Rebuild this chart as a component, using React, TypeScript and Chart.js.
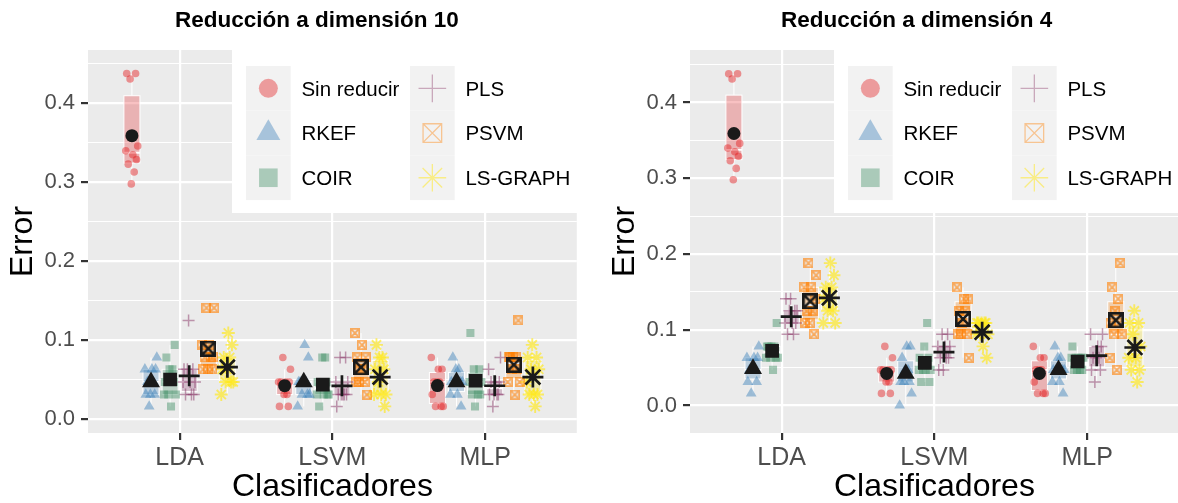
import React, { useEffect, useRef } from 'react';
import { Chart, registerables } from 'chart.js';

Chart.register(...registerables);

const FONT = '"Liberation Sans", Arial, Helvetica, sans-serif';

// ---------- data ----------
const classifiers = ['LDA', 'LSVM', 'MLP'];
const methods = ['Sin reducir', 'RKEF', 'COIR', 'PLS', 'PSVM', 'LS-GRAPH'];
const methodColors = ['#E41A1C', '#377EB8', '#3E8E63', '#8B3A6A', '#FF7F00', '#FFE81A'];
const yMajorTicks = [0, 0.1, 0.2, 0.3, 0.4];
const yMinorTicks = [0.05, 0.15, 0.25, 0.35, 0.45];
const panelTitles = ['Reducción a dimensión 10', 'Reducción a dimensión 4'];
const xAxisTitle = 'Clasificadores';
const yAxisTitle = 'Error';

// Error per run, one array per classifier (LDA, LSVM, MLP)
const sinReducir = [
  [0.438, 0.438, 0.431, 0.346, 0.34, 0.335, 0.329, 0.323, 0.313, 0.298],
  [0.078, 0.063, 0.047, 0.047, 0.047, 0.047, 0.031, 0.031, 0.016, 0.016],
  [0.078, 0.063, 0.063, 0.047, 0.047, 0.047, 0.031, 0.016, 0.016, 0.016],
];
const dim10RKEF = [
  [0.078, 0.063, 0.063, 0.063, 0.047, 0.047, 0.031, 0.031, 0.031, 0.016],
  [0.094, 0.078, 0.047, 0.047, 0.047, 0.047, 0.031, 0.031, 0.031, 0.016],
  [0.078, 0.063, 0.063, 0.047, 0.047, 0.047, 0.047, 0.031, 0.031, 0.016],
];
const dim10COIR = [
  [0.094, 0.078, 0.063, 0.063, 0.047, 0.047, 0.031, 0.031, 0.031, 0.016],
  [0.078, 0.078, 0.047, 0.047, 0.047, 0.031, 0.031, 0.031, 0.031, 0.016],
  [0.109, 0.063, 0.063, 0.047, 0.047, 0.047, 0.031, 0.031, 0.031, 0.016],
];
const dim10PLS = [
  [0.125, 0.063, 0.063, 0.063, 0.047, 0.047, 0.047, 0.031, 0.031, 0.031],
  [0.078, 0.078, 0.047, 0.047, 0.031, 0.031, 0.031, 0.031, 0.031, 0.016],
  [0.078, 0.063, 0.047, 0.047, 0.047, 0.031, 0.031, 0.031, 0.031, 0.016],
];
const dim10PSVM = [
  [0.141, 0.141, 0.094, 0.094, 0.078, 0.078, 0.078, 0.063, 0.063, 0.063],
  [0.109, 0.094, 0.078, 0.078, 0.063, 0.063, 0.047, 0.047, 0.047, 0.031],
  [0.125, 0.078, 0.078, 0.078, 0.078, 0.063, 0.063, 0.047, 0.047, 0.031],
];
const dim10LSGRAPH = [
  [0.109, 0.094, 0.078, 0.078, 0.063, 0.063, 0.047, 0.047, 0.047, 0.031],
  [0.094, 0.078, 0.078, 0.063, 0.063, 0.047, 0.031, 0.031, 0.031, 0.016],
  [0.094, 0.078, 0.078, 0.063, 0.063, 0.047, 0.031, 0.031, 0.031, 0.016],
];
const dim4RKEF = [
  [0.078, 0.063, 0.063, 0.063, 0.047, 0.047, 0.047, 0.031, 0.031, 0.016],
  [0.078, 0.078, 0.063, 0.047, 0.047, 0.031, 0.031, 0.031, 0.016, 0.0],
  [0.078, 0.063, 0.063, 0.047, 0.047, 0.047, 0.047, 0.031, 0.031, 0.016],
];
const dim4COIR = [
  [0.109, 0.078, 0.078, 0.078, 0.078, 0.063, 0.063, 0.063, 0.063, 0.047],
  [0.109, 0.078, 0.063, 0.063, 0.047, 0.047, 0.047, 0.047, 0.031, 0.031],
  [0.078, 0.063, 0.063, 0.063, 0.063, 0.063, 0.047, 0.047, 0.047, 0.047],
];
const dim4PLS = [
  [0.141, 0.141, 0.125, 0.125, 0.125, 0.109, 0.109, 0.109, 0.094, 0.094],
  [0.094, 0.094, 0.078, 0.078, 0.078, 0.063, 0.063, 0.063, 0.047, 0.047],
  [0.094, 0.094, 0.078, 0.078, 0.063, 0.063, 0.063, 0.047, 0.047, 0.031],
];
const dim4PSVM = [
  [0.188, 0.172, 0.156, 0.156, 0.141, 0.125, 0.125, 0.109, 0.109, 0.094],
  [0.156, 0.141, 0.141, 0.125, 0.125, 0.109, 0.094, 0.094, 0.094, 0.063],
  [0.188, 0.156, 0.141, 0.125, 0.109, 0.109, 0.094, 0.094, 0.063, 0.047],
];
const dim4LSGRAPH = [
  [0.188, 0.172, 0.156, 0.156, 0.141, 0.141, 0.125, 0.125, 0.109, 0.109],
  [0.109, 0.109, 0.109, 0.109, 0.109, 0.094, 0.094, 0.094, 0.078, 0.063],
  [0.125, 0.109, 0.109, 0.094, 0.078, 0.063, 0.063, 0.047, 0.047, 0.031],
];
// fixed horizontal jitter pattern (category units)
const jitterPattern = [-0.034, 0.024, -0.012, 0.038, -0.04, 0.006, 0.03, -0.024, 0.015, -0.004];

const panels = [
  { title: panelTitles[0], series: [sinReducir, dim10RKEF, dim10COIR, dim10PLS, dim10PSVM, dim10LSGRAPH], yMin: -0.0177, yMax: 0.4677 },
  { title: panelTitles[1], series: [sinReducir, dim4RKEF, dim4COIR, dim4PLS, dim4PSVM, dim4LSGRAPH], yMin: -0.0363, yMax: 0.4693 },
];

// ---------- style ----------
const DODGE = 0.125;
const BOX_W = 0.105;
const PANEL_BG = '#EBEBEB';
const MEAN_COLOR = '#1A1A1A';
const pointRadii = [3.8, 6.2, 5.7, 6, 5, 6.5];
const meanRadii = [6.5, 10.4, 9.7, 10.5, 8, 10.5];
const legendLayout = { boxLeft: 144, boxBottom: 213, keyCols: [158, 322], keyTop: 66, keySize: 44.7, textGap: 10.7, fontSize: 20.5 };
const titleLefts = [175, 781];

function rgba(hex: string, a: number) {
  const n = parseInt(hex.slice(1), 16);
  return `rgba(${(n >> 16) & 255},${(n >> 8) & 255},${n & 255},${a})`;
}

function makeBoxX(size: number, lw: number, color: string) {
  const c = document.createElement('canvas');
  c.width = size;
  c.height = size;
  const g = c.getContext('2d')!;
  g.strokeStyle = color;
  g.lineWidth = lw;
  const o = lw / 2;
  const s = size - lw;
  g.beginPath();
  g.rect(o, o, s, s);
  g.moveTo(o, o);
  g.lineTo(o + s, o + s);
  g.moveTo(o + s, o);
  g.lineTo(o, o + s);
  g.stroke();
  return c;
}

function mean(v: number[]) {
  return v.reduce((a, b) => a + b, 0) / v.length;
}

function boxStats(vals: number[]) {
  const s = [...vals].sort((a, b) => a - b);
  const q = (p: number) => {
    const h = (s.length - 1) * p;
    const lo = Math.floor(h);
    const hi = Math.min(lo + 1, s.length - 1);
    return s[lo] + (h - lo) * (s[hi] - s[lo]);
  };
  const q1 = q(0.25), med = q(0.5), q3 = q(0.75);
  const iqr = q3 - q1;
  const lo = Math.min(...s.filter((v) => v >= q1 - 1.5 * iqr));
  const hi = Math.max(...s.filter((v) => v <= q3 + 1.5 * iqr));
  return { q1, med, q3, lo, hi };
}

function drawLegendMarker(ctx: CanvasRenderingContext2D, m: number, cx: number, cy: number, color: string) {
  ctx.save();
  ctx.fillStyle = color;
  ctx.strokeStyle = color;
  ctx.lineWidth = 1.3;
  ctx.beginPath();
  if (m === 0) {
    ctx.arc(cx, cy, 9.5, 0, Math.PI * 2);
    ctx.fill();
  } else if (m === 1) {
    const r = 13.8;
    ctx.moveTo(cx, cy - r);
    ctx.lineTo(cx + r * 0.866, cy + r * 0.5);
    ctx.lineTo(cx - r * 0.866, cy + r * 0.5);
    ctx.closePath();
    ctx.fill();
  } else if (m === 2) {
    ctx.rect(cx - 9.3, cy - 9.3, 18.6, 18.6);
    ctx.fill();
  } else if (m === 3) {
    const r = 13.8;
    ctx.moveTo(cx - r, cy); ctx.lineTo(cx + r, cy);
    ctx.moveTo(cx, cy - r); ctx.lineTo(cx, cy + r);
    ctx.stroke();
  } else if (m === 4) {
    const h = 9.3;
    ctx.rect(cx - h, cy - h, 2 * h, 2 * h);
    ctx.moveTo(cx - h, cy - h); ctx.lineTo(cx + h, cy + h);
    ctx.moveTo(cx + h, cy - h); ctx.lineTo(cx - h, cy + h);
    ctx.stroke();
  } else {
    const r = 13.8;
    const d = r * Math.SQRT1_2;
    ctx.moveTo(cx - r, cy); ctx.lineTo(cx + r, cy);
    ctx.moveTo(cx, cy - r); ctx.lineTo(cx, cy + r);
    ctx.moveTo(cx - d, cy - d); ctx.lineTo(cx + d, cy + d);
    ctx.moveTo(cx + d, cy - d); ctx.lineTo(cx - d, cy + d);
    ctx.stroke();
  }
  ctx.restore();
}

function isMajor(v: number) {
  return Math.abs(v * 10 - Math.round(v * 10)) < 1e-6;
}

function buildChart(canvas: HTMLCanvasElement, panel: any) {
  const psvmPoint = makeBoxX(10, 1.7, rgba(methodColors[4], 0.6));
  const psvmMean = makeBoxX(16, 2.6, MEAN_COLOR);
  const styles: any[] = ['circle', 'triangle', 'rect', 'cross', psvmPoint, 'star'];
  const meanStyles: any[] = ['circle', 'triangle', 'rect', 'cross', psvmMean, 'star'];
  const lineShape = [false, false, false, true, false, true];
  const pointAlpha = [0.45, 0.45, 0.45, 0.5, 0.6, 0.65];
  const lineW = [0, 0, 0, 1.5, 0, 1.9];

  const datasets: any[] = [];
  const boxes: any[] = [];
  panel.series.forEach((byClass: number[][], m: number) => {
    const pts: any[] = [];
    const means: any[] = [];
    const off = (m - 2.5) * DODGE;
    byClass.forEach((vals, c) => {
      const cx = c + 1 + off;
      vals.forEach((v, k) => pts.push({ x: cx + jitterPattern[(k + 3 * m + 2 * c) % jitterPattern.length], y: v }));
      means.push({ x: cx, y: mean(vals) });
      boxes.push({ x: cx, color: methodColors[m], ...boxStats(vals) });
    });
    const col = methodColors[m];
    datasets.push({
      label: methods[m],
      data: pts,
      order: 2,
      pointStyle: styles[m],
      pointRadius: pointRadii[m],
      pointHoverRadius: pointRadii[m],
      backgroundColor: lineShape[m] ? 'rgba(0,0,0,0)' : rgba(col, pointAlpha[m]),
      borderColor: lineShape[m] ? rgba(col, pointAlpha[m]) : 'rgba(0,0,0,0)',
      borderWidth: lineW[m],
    });
    datasets.push({
      label: methods[m] + ' (media)',
      data: means,
      order: 1,
      pointStyle: meanStyles[m],
      pointRadius: meanRadii[m],
      pointHoverRadius: meanRadii[m],
      backgroundColor: lineShape[m] ? 'rgba(0,0,0,0)' : MEAN_COLOR,
      borderColor: lineShape[m] ? MEAN_COLOR : 'rgba(0,0,0,0)',
      borderWidth: lineShape[m] ? 2.7 : 0,
    });
  });

  const bgPlugin = {
    id: 'panelBg',
    beforeDraw(chart: any) {
      const { ctx, chartArea: a } = chart;
      ctx.save();
      ctx.fillStyle = PANEL_BG;
      ctx.fillRect(a.left, a.top, a.right - a.left, a.bottom - a.top);
      ctx.restore();
    },
  };

  const boxPlugin = {
    id: 'boxes',
    beforeDatasetsDraw(chart: any) {
      const { ctx, chartArea: a } = chart;
      const xs = chart.scales.x;
      const ys = chart.scales.y;
      ctx.save();
      ctx.beginPath();
      ctx.rect(a.left, a.top, a.right - a.left, a.bottom - a.top);
      ctx.clip();
      boxes.forEach((b) => {
        const xl = xs.getPixelForValue(b.x - BOX_W / 2);
        const xr = xs.getPixelForValue(b.x + BOX_W / 2);
        const xc = xs.getPixelForValue(b.x);
        const y1 = ys.getPixelForValue(b.q1);
        const y3 = ys.getPixelForValue(b.q3);
        const ym = ys.getPixelForValue(b.med);
        const ylo = ys.getPixelForValue(b.lo);
        const yhi = ys.getPixelForValue(b.hi);
        ctx.strokeStyle = '#FFFFFF';
        ctx.lineWidth = 1;
        ctx.beginPath();
        ctx.moveTo(xc, y3); ctx.lineTo(xc, yhi);
        ctx.moveTo(xc, y1); ctx.lineTo(xc, ylo);
        ctx.stroke();
        ctx.fillStyle = rgba(b.color, 0.27);
        ctx.fillRect(xl, y3, xr - xl, y1 - y3);
        ctx.strokeRect(xl, y3, xr - xl, y1 - y3);
        ctx.lineWidth = 1.8;
        ctx.beginPath();
        ctx.moveTo(xl, ym); ctx.lineTo(xr, ym);
        ctx.stroke();
      });
      ctx.restore();
    },
  };

  const legendPlugin = {
    id: 'ggLegend',
    afterDraw(chart: any) {
      const { ctx, chartArea: a } = chart;
      const L = legendLayout;
      ctx.save();
      ctx.fillStyle = '#FFFFFF';
      ctx.fillRect(a.left + L.boxLeft, a.top - 2, a.right + 2 - (a.left + L.boxLeft), L.boxBottom - a.top + 2);
      ctx.font = `${L.fontSize}px ${FONT}`;
      ctx.textBaseline = 'alphabetic';
      ctx.textAlign = 'left';
      methods.forEach((name, m) => {
        const col = Math.floor(m / 3);
        const row = m % 3;
        const kx = a.left + L.keyCols[col];
        const ky = L.keyTop + row * L.keySize;
        ctx.fillStyle = '#F2F2F2';
        ctx.fillRect(kx, ky, L.keySize, L.keySize);
        drawLegendMarker(ctx, m, kx + L.keySize / 2, ky + L.keySize / 2, rgba(methodColors[m], m === 5 ? 0.5 : 0.4));
        ctx.fillStyle = '#000000';
        ctx.fillText(name, kx + L.keySize + L.textGap, ky + L.keySize / 2 + 7.3);
      });
      ctx.restore();
    },
  };

  return new Chart(canvas, {
    type: 'scatter',
    data: { datasets },
    plugins: [bgPlugin, boxPlugin, legendPlugin],
    options: {
      animation: false,
      responsive: false,
      devicePixelRatio: 1,
      events: [],
      layout: { padding: { top: 50, right: 2, bottom: 0, left: 0 } },
      plugins: { legend: { display: false }, tooltip: { enabled: false }, title: { display: false } },
      scales: {
        x: {
          type: 'linear',
          min: 0.4,
          max: 3.6,
          afterBuildTicks: (s: any) => { s.ticks = [1, 2, 3].map((v) => ({ value: v })); },
          afterFit: (s: any) => { s.height = 70; },
          ticks: {
            autoSkip: false,
            maxRotation: 0,
            padding: 3,
            color: '#4D4D4D',
            font: { family: FONT, size: 25 },
            callback: (v: any) => classifiers[Math.round(Number(v)) - 1] ?? '',
          },
          grid: { color: '#FFFFFF', lineWidth: 2.2, tickColor: '#333333', tickLength: 7, tickWidth: 2.2 },
          border: { display: false },
          title: { display: true, text: xAxisTitle, color: '#000000', font: { family: FONT, size: 32, lineHeight: 1 }, padding: { top: 0, bottom: 0 } },
        },
        y: {
          type: 'linear',
          min: panel.yMin,
          max: panel.yMax,
          afterBuildTicks: (s: any) => {
            s.ticks = [...yMajorTicks, ...yMinorTicks].sort((p, q) => p - q).map((v) => ({ value: v }));
          },
          afterFit: (s: any) => { s.width = 88; },
          ticks: {
            autoSkip: false,
            padding: 6,
            color: '#4D4D4D',
            font: { family: FONT, size: 22 },
            callback: (v: any) => (isMajor(Number(v)) ? Number(v).toFixed(1) : ''),
          },
          grid: {
            color: '#FFFFFF',
            lineWidth: (c: any) => (c.tick && isMajor(c.tick.value) ? 2.2 : 1.1),
            tickColor: (c: any) => (c.tick && isMajor(c.tick.value) ? '#333333' : 'rgba(0,0,0,0)'),
            tickLength: 7,
            tickWidth: 2.2,
          },
          border: { display: false },
          title: { display: true, text: yAxisTitle, color: '#000000', font: { family: FONT, size: 32, lineHeight: 1 }, padding: { top: 7, bottom: 0 } },
        },
      },
    } as any,
  });
}

export default function App() {
  const ref0 = useRef<HTMLCanvasElement>(null);
  const ref1 = useRef<HTMLCanvasElement>(null);
  const refs = [ref0, ref1];

  useEffect(() => {
    const charts = panels.map((p, i) => buildChart(refs[i].current!, p));
    return () => charts.forEach((c) => c.destroy());
  }, []);

  return (
    <div style={{ position: 'fixed', left: 0, top: 0, width: 1178, height: 503, overflow: 'hidden', background: '#FFFFFF' }}>
      {panels.map((p, i) => (
        <div key={'c' + i} style={{ position: 'absolute', left: i * 602, top: 0, width: 590, height: 503 }}>
          <canvas ref={refs[i]} width={590} height={503} style={{ width: 590, height: 503, display: 'block' }} />
        </div>
      ))}
      {panels.map((p, i) => (
        <div
          key={'t' + i}
          style={{
            position: 'absolute',
            left: titleLefts[i],
            top: 9,
            font: `bold 22.5px ${FONT}`,
            lineHeight: '22px',
            whiteSpace: 'nowrap',
            color: '#000000',
          }}
        >
          {p.title}
        </div>
      ))}
    </div>
  );
}
